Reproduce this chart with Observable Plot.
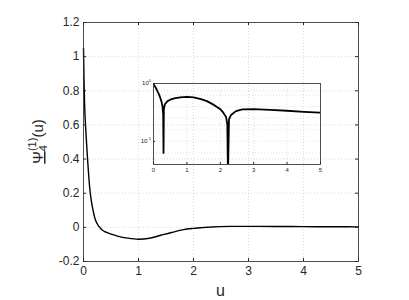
<!DOCTYPE html>
<html>
<head>
<meta charset="utf-8">
<script src="https://cdn.jsdelivr.net/npm/d3@7"></script>
<script src="https://cdn.jsdelivr.net/npm/@observablehq/plot@0.6"></script>
<style>
  html, body { margin: 0; padding: 0; background: #fff; }
  #wrap { position: relative; width: 409px; height: 300px; }
  #wrap svg { position: absolute; }
</style>
</head>
<body>
<div id="wrap"></div>
<script>
// ---- data ----
const uValues = [0, 0.01, 0.02, 0.04, 0.06, 0.08, 0.10, 0.12, 0.15, 0.18, 0.21, 0.24, 0.27, 0.29, 0.30,
  0.31, 0.34, 0.42, 0.5, 0.62, 0.8, 1.0, 1.2, 1.42, 1.6, 1.82, 2.0, 2.07, 2.17, 2.21, 2.23,
  2.26, 2.32, 2.47, 2.66, 3.0, 3.5, 4.0, 4.5, 5.0];
const psiValues = [1.05, 0.85, 0.72, 0.58, 0.47, 0.37, 0.28, 0.21, 0.14, 0.09, 0.05, 0.026, 0.01, 0.002, -0.000001,
  -0.006, -0.016, -0.03, -0.04, -0.051, -0.063, -0.07, -0.064, -0.045, -0.03, -0.0135, -0.006, -0.0036, -0.00135, -0.0003, 0.00000001,
  0.0008, 0.0019, 0.0041, 0.0058, 0.006, 0.0052, 0.0044, 0.0036, 0.003];
const xTicks = [0, 1, 2, 3, 4, 5];
const xTickLabels = ["0", "1", "2", "3", "4", "5"];
const yTicks = [-0.2, 0, 0.2, 0.4, 0.6, 0.8, 1, 1.2];
const yTickLabels = ["-0.2", "0", "0.2", "0.4", "0.6", "0.8", "1", "1.2"];
const insetYTicks = [1e-5, 1];
const insetYExponents = ["-5", "0"];
const insetYDecades = [1e-7, 1e-6, 1e-5, 1e-4, 1e-3, 1e-2, 1e-1, 1];

const data = uValues.map((u, i) => ({u, psi: psiValues[i], abs: Math.abs(psiValues[i])}));

const axisColor = "#262626";
const gridStyle = {stroke: "#cfcfcf", strokeOpacity: 1, strokeDasharray: "1,2", strokeWidth: 0.8};
const font = "Liberation Sans, Arial, Helvetica, sans-serif";

// ---- main chart ----
const W = 409, H = 300, mL = 83, mR = 51, mT = 22, mB = 39;
const fh = H - mT - mB, fw = W - mL - mR, tk = 3;
const main = Plot.plot({
  width: W, height: H,
  marginLeft: mL, marginRight: mR, marginTop: mT, marginBottom: mB,
  style: {fontFamily: font, background: "transparent", overflow: "visible"},
  x: {domain: [0, 5]},
  y: {domain: [-0.2, 1.2]},
  marks: [
    Plot.gridX(xTicks, gridStyle),
    Plot.gridY(yTicks, gridStyle),
    Plot.line(data, {x: "u", y: "psi", stroke: "black", strokeWidth: 1.4, curve: "monotone-x"}),
    Plot.frame({stroke: axisColor, strokeWidth: 0.8}),
    Plot.tickX(xTicks, {x: d => d, insetTop: fh - tk, stroke: axisColor}),
    Plot.tickX(xTicks, {x: d => d, insetBottom: fh - tk, stroke: axisColor}),
    Plot.tickY(yTicks, {y: d => d, insetRight: fw - tk, stroke: axisColor}),
    Plot.tickY(yTicks, {y: d => d, insetLeft: fw - tk, stroke: axisColor}),
    Plot.axisX({ticks: xTicks, tickSize: 0, tickPadding: 5, fontSize: 12, color: axisColor,
      tickFormat: d => xTickLabels[xTicks.indexOf(d)], label: null}),
    Plot.axisY({ticks: yTicks, tickSize: 0, tickPadding: 4, fontSize: 12, color: axisColor,
      tickFormat: d => yTickLabels[yTicks.indexOf(d)], label: null})
  ]
});
main.style.left = "0px"; main.style.top = "0px";
document.getElementById("wrap").appendChild(main);

const ms = d3.select(main);
// x label
ms.append("text")
  .attr("x", main.scale("x").apply(2.5)).attr("y", 296)
  .attr("text-anchor", "middle").attr("font-size", 16).attr("font-family", font)
  .attr("fill", axisColor).text("u");
// y label (rotated, with sub/superscript)
const yl = ms.append("text")
  .attr("transform", `translate(43,${main.scale("y").apply(0.5)}) rotate(-90)`)
  .attr("text-anchor", "middle").attr("font-size", 15).attr("font-family", font).attr("fill", axisColor);
yl.append("tspan").attr("text-decoration", "underline").text("Ψ");
yl.append("tspan").attr("font-size", 11).attr("dy", 4).text("4");
yl.append("tspan").attr("font-size", 11).attr("dx", -6).attr("dy", -11).text("(1)");
yl.append("tspan").attr("dy", 7).text("(u)");

// ---- inset chart ----
const iW = 200, iH = 110, iL = 23, iR = 10, iT = 13, iB = 16;
const ifh = iH - iT - iB, ifw = iW - iL - iR, itk = 2;
const inset = Plot.plot({
  width: iW, height: iH,
  marginLeft: iL, marginRight: iR, marginTop: iT, marginBottom: iB,
  style: {fontFamily: font, background: "transparent", overflow: "visible"},
  x: {domain: [0, 5]},
  y: {type: "log", domain: [1e-7, 1], axis: null},
  marks: [
    Plot.gridX(xTicks, {...gridStyle, strokeWidth: 0.6}),
    Plot.gridY(insetYDecades, {...gridStyle, strokeWidth: 0.6}),
    Plot.line(data, {x: "u", y: "abs", stroke: "black", strokeWidth: 1.8, clip: true}),
    Plot.frame({stroke: axisColor, strokeWidth: 0.8}),
    Plot.tickX(xTicks, {x: d => d, insetTop: ifh - itk, stroke: axisColor}),
    Plot.tickY(insetYTicks, {y: d => d, insetRight: ifw - itk, stroke: axisColor}),
    Plot.axisX({ticks: xTicks, tickSize: 0, tickPadding: 3, fontSize: 6, color: axisColor,
      tickFormat: d => xTickLabels[xTicks.indexOf(d)], label: null})
  ]
});
inset.style.left = "130px"; inset.style.top = "70px";
document.getElementById("wrap").appendChild(inset);

const is = d3.select(inset);
insetYTicks.forEach((v, i) => {
  const t = is.append("text")
    .attr("x", iL - 2).attr("y", inset.scale("y").apply(v) + 2)
    .attr("text-anchor", "end").attr("font-size", 6).attr("font-family", font).attr("fill", axisColor);
  t.append("tspan").text("10");
  t.append("tspan").attr("font-size", 4).attr("dy", -3).text(insetYExponents[i]);
});
</script>
</body>
</html>
